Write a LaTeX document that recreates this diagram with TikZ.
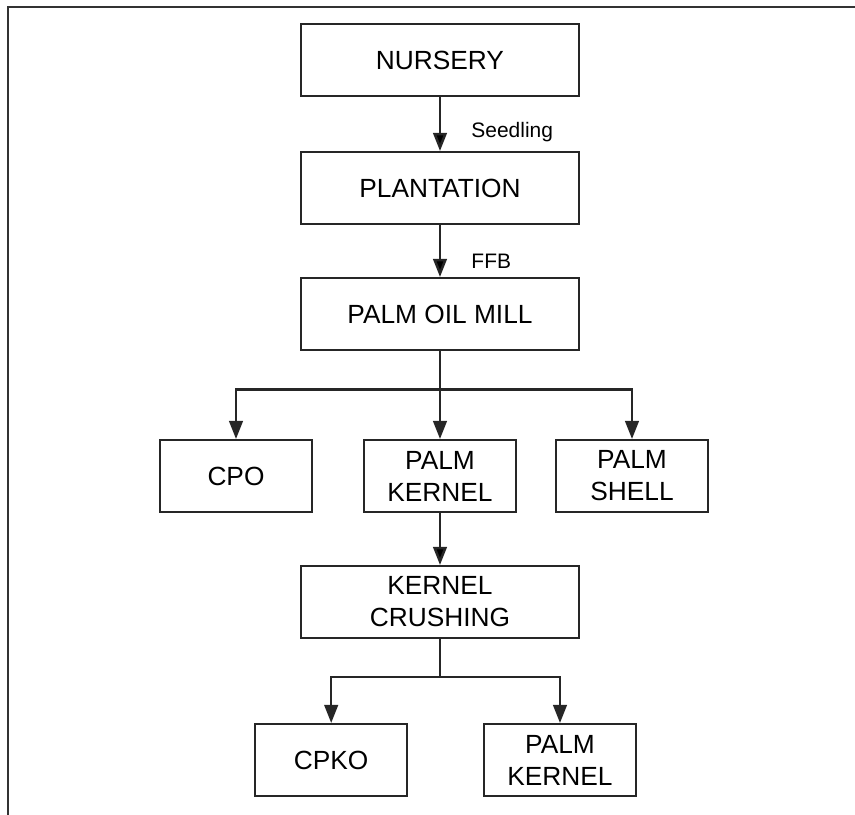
\documentclass[tikz,border=0pt]{standalone}
\usepackage{fontspec}
\setmainfont{Liberation Sans}
\usetikzlibrary{arrows.meta}
\tikzset{
  box/.style={shape=rectangle,draw=black!85,line width=1.5pt,align=center,
    font=\fontsize{18.7}{22.8}\selectfont,inner sep=0pt},
  wide/.style={box,minimum width=6.95cm,minimum height=1.8cm},
  narrow/.style={box,minimum width=3.8cm,minimum height=1.8cm},
  link/.style={line width=1.8pt,draw=black!85},
  arr/.style={link,-{Triangle[length=0.45cm,width=0.34cm]}},
  tag/.style={font=\fontsize{14.9}{18}\selectfont,anchor=west,inner sep=0pt}
}
\begin{document}
\begin{tikzpicture}
        \useasboundingbox (0,0) rectangle (21.375,-20.375);
        \draw[line width=1.3pt,draw=black!80] (21.375,-0.17) -- (0.21,-0.17) -- (0.21,-20.375);
        \node[wide] (nursery) at (11,-1.5) {NURSERY};
        \node[wide] (plantation) at (11,-4.7) {PLANTATION};
        \node[wide] (mill) at (11,-7.85) {PALM OIL MILL};
        \node[narrow] (cpo) at (5.9,-11.9) {CPO};
        \node[narrow] (kernel) at (11,-11.9) {PALM\\KERNEL};
        \node[narrow] (shell) at (15.8,-11.9) {PALM\\SHELL};
        \node[wide] (crushing) at (11,-15.05) {KERNEL\\CRUSHING};
        \node[narrow] (cpko) at (8.28,-19) {CPKO};
        \node[narrow] (kernelb) at (14,-19) {PALM\\KERNEL};
        \node[tag] (seedling) at (11.78,-3.3) {Seedling};
        \node[tag] (ffb) at (11.78,-6.52) {FFB};
        \coordinate (split) at (11,-9.74);
        \coordinate (splitb) at (11,-16.92);
        \path[arr] (nursery) edge (plantation);
        \path[arr] (plantation) edge (mill);
        \draw[link] (mill) -- (split);
        \draw[arr] (split) -| (cpo);
        \draw[arr] (split) -- (kernel);
        \draw[arr] (split) -| (shell);
        \path[arr] (kernel) edge (crushing);
        \draw[link] (crushing) -- (splitb);
        \draw[arr] (splitb) -| (cpko);
        \draw[arr] (splitb) -| (kernelb);
    \end{tikzpicture}
\end{document}
